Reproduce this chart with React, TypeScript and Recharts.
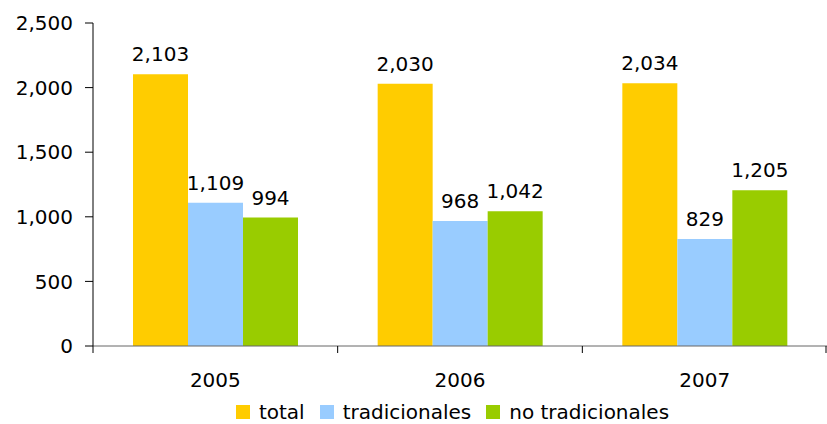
import React from "react";
import { BarChart, Bar, XAxis, YAxis, LabelList } from "recharts";

const years = ["2005", "2006", "2007"];
const total = [2103, 2030, 2034];
const tradicionales = [1109, 968, 829];
const noTradicionales = [994, 1042, 1205];
const yTicks = [0, 500, 1000, 1500, 2000, 2500];

const series = [
  { key: "total", name: "total", color: "#FFCC00" },
  { key: "trad", name: "tradicionales", color: "#99CCFF" },
  { key: "notrad", name: "no tradicionales", color: "#99CC00" },
];

const data = years.map((y, i) => ({
  year: y,
  total: total[i],
  trad: tradicionales[i],
  notrad: noTradicionales[i],
}));

const W = 827;
const H = 424;
const LEFT = 93;
const FONT = "'DejaVu Sans', sans-serif";
const fmt = (v: number) => v.toLocaleString("en-US");

const band = (W - LEFT) / years.length;

function XTick(props: any) {
  const { x, y, index, payload } = props;
  const last = index === years.length - 1;
  return (
    <g>
      <line x1={x - band / 2} x2={x - band / 2} y1={y} y2={y + 7} stroke="#000" />
      {last && <line x1={x + band / 2 - 1} x2={x + band / 2 - 1} y1={y} y2={y + 7} stroke="#000" />}
      <text x={x} y={y + 34} textAnchor="middle" dominantBaseline="central" fontSize={20} fill="#000" fontFamily={FONT}>
        {payload.value}
      </text>
    </g>
  );
}

function LegendBox() {
  return (
    <div style={{ display: "flex", justifyContent: "center", alignItems: "center", fontFamily: FONT, fontSize: 20, color: "#000" }}>
      {series.map((s) => (
        <div key={s.key} style={{ display: "flex", alignItems: "center", marginRight: 15 }}>
          <span style={{ width: 14, height: 14, background: s.color, display: "inline-block", marginRight: 9 }} />
          <span>{s.name}</span>
        </div>
      ))}
    </div>
  );
}

export default function App() {
  return (
    <div style={{ position: "absolute", left: 0, top: 0, width: W, height: H, background: "#fff" }}>
      <BarChart
        width={W}
        height={H}
        data={data}
        margin={{ top: 23, right: 0, left: 0, bottom: 48 }}
        barGap={0}
        barCategoryGap={40}
      >
        <XAxis
          dataKey="year"
          height={30}
          axisLine={{ stroke: "#666" }}
          tickLine={false}
          tickSize={0}
          tickMargin={0}
          tick={<XTick />}
          interval={0}
        />
        <YAxis
          width={LEFT}
          domain={[0, 2500]}
          ticks={yTicks}
          tickFormatter={fmt}
          axisLine={{ stroke: "#000" }}
          tickLine={{ stroke: "#000" }}
          tickSize={8}
          tickMargin={12}
          tick={{ fill: "#000", fontSize: 20, fontFamily: FONT }}
        />
        {series.map((s) => (
          <Bar key={s.key} dataKey={s.key} name={s.name} fill={s.color} isAnimationActive={false}>
            <LabelList
              dataKey={s.key}
              position="top"
              offset={13}
              formatter={(v: any) => fmt(Number(v))}
              style={{ fill: "#000", fontSize: 20, fontFamily: FONT }}
            />
          </Bar>
        ))}
      </BarChart>
      <div style={{ position: "absolute", left: LEFT, width: W - LEFT, top: 400 }}>
        <LegendBox />
      </div>
    </div>
  );
}
